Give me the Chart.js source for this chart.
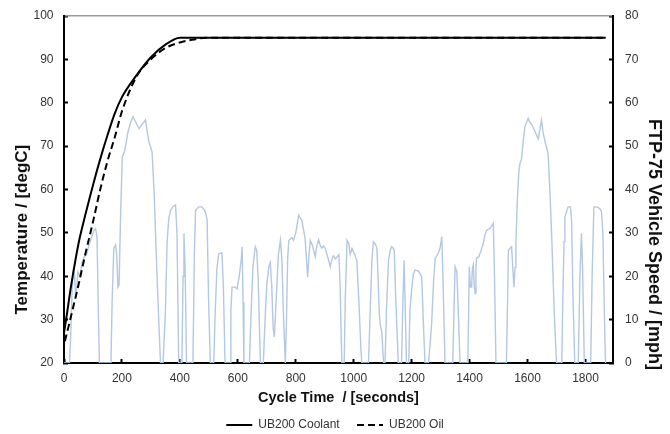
<!DOCTYPE html>
<html>
<head>
<meta charset="utf-8">
<script src="https://cdn.jsdelivr.net/npm/chart.js@4.4.1/dist/chart.umd.min.js"></script>
<style>
  html, body { margin: 0; padding: 0; background: #fff; }
  #wrap { width: 670px; height: 434px; }
</style>
</head>
<body>
<div id="wrap"><canvas id="chart" width="670" height="434"></canvas></div>
<script>
// engine temperatures (degC) over cycle time (s)
const coolantTime = [0, 6, 25, 50, 75, 100, 125, 150, 175, 200, 250, 300, 350, 400, 1870];
const coolantTemp = [27, 29.5, 38, 47.5, 54.5, 61, 67, 72.5, 77.5, 81.3, 86.3, 90.5, 93.4, 95, 95];

const oilTime = [3, 25, 50, 75, 100, 125, 150, 175, 200, 250, 300, 350, 400, 450, 490, 1870];
const oilTemp = [25, 31, 38, 45.5, 52.5, 60, 66.5, 72, 78, 86, 90, 92.6, 93.9, 94.6, 95, 95];

// FTP-75 vehicle speed (mph)
const speedTime = [0, 19, 23, 28, 33, 37, 40, 44, 48, 55, 62, 70, 78, 86, 95, 103, 109, 114, 118, 122,
  162, 166, 172, 178, 182, 186, 190, 195, 201, 210, 220, 230, 238, 248, 259, 270, 281, 287, 293, 304,
  312, 320, 327, 333, 342, 350, 356, 362, 368, 378, 385, 390, 396, 407, 411, 414, 418, 423, 445, 450,
  454, 465, 475, 482, 488, 494, 499, 505, 517, 522, 528, 534, 545, 550, 556, 573, 576, 580, 590, 597,
  605, 612, 615, 618, 621, 640, 646, 652, 660, 665, 670, 678, 688, 694, 700, 707, 712, 717, 722, 726,
  732, 740, 747, 752, 758, 764, 768, 772, 776, 787, 792, 800, 810, 815, 821, 826, 832, 837, 841, 846,
  850, 858, 867, 873, 879, 885, 890, 896, 902, 910, 916, 919, 925, 930, 937, 943, 949, 953, 959, 967,
  971, 977, 983, 988, 994, 1000, 1005, 1011, 1018, 1025, 1028, 1051, 1057, 1063, 1068, 1074, 1080, 1084, 1088, 1091,
  1097, 1103, 1108, 1113, 1120, 1126, 1131, 1136, 1140, 1145, 1154, 1165, 1170, 1174, 1178, 1182, 1190, 1194, 1200, 1206,
  1212, 1224, 1230, 1235, 1240, 1246, 1258, 1262, 1269, 1275, 1281, 1292, 1298, 1304, 1308, 1315, 1342, 1346, 1350, 1356,
  1362, 1367, 1394, 1399, 1403, 1407, 1410, 1413, 1416, 1419, 1422, 1424, 1432, 1440, 1447, 1453, 1459, 1470, 1476, 1482,
  1486, 1491, 1527, 1531, 1534, 1540, 1545, 1549, 1553, 1557, 1560, 1565, 1570, 1574, 1579, 1585, 1591, 1602, 1608, 1614,
  1625, 1637, 1643, 1648, 1654, 1660, 1666, 1671, 1677, 1684, 1692, 1700, 1718, 1722, 1726, 1729, 1740, 1748, 1752, 1757,
  1763, 1775, 1781, 1786, 1790, 1796, 1818, 1823, 1829, 1837, 1844, 1850, 1855, 1860, 1865, 1869];
const speedMph = [0, 0, 6, 17, 22, 20, 15, 17, 21, 20, 23, 24.5, 25, 27.2, 29, 30.6, 31, 29, 14, 0,
  0, 14, 26.4, 27.2, 25, 17.5, 18, 33, 47.5, 49, 53, 55.5, 56.8, 55.5, 54, 55, 56, 53.5, 51, 48.7,
  38, 22, 10, 0, 0, 12, 28, 33.5, 35.2, 36.2, 36.4, 30, 0, 0, 20, 29.9, 22, 0, 0, 25,
  35.2, 36, 36, 35.5, 34.8, 33, 15, 0, 0, 12, 22, 25.2, 25.4, 18, 0, 0, 12, 17.5, 17.5, 17.1,
  20, 24, 26.8, 14, 0, 0, 12, 22, 26.8, 26, 20, 0, 0, 10, 18, 22.2, 23.2, 18, 8, 6,
  14, 25, 28.3, 24, 10, 0, 10, 24, 28.3, 28.9, 28.3, 30, 34.1, 33.5, 32.9, 31, 28.8, 24, 19.8, 25,
  28.3, 27, 24.5, 27, 28.4, 27, 26.5, 27, 26.4, 24.5, 23, 22.2, 24, 24.7, 24, 24.5, 25, 18, 0, 0,
  15, 28.3, 27.5, 25, 26.4, 25.5, 24.8, 23.5, 14, 3, 0, 0, 12, 24, 27.9, 27.5, 26.5, 20, 12, 9.1,
  7, 0, 0, 12, 23.7, 26, 26.8, 26.5, 26, 15, 0, 0, 15, 23.7, 12, 0, 0, 12, 17, 20.5,
  21.4, 21.2, 20.5, 19.8, 10, 0, 0, 3, 9.1, 18, 24.1, 25.3, 26.5, 29.1, 20, 0, 0, 12, 22.2, 21,
  10, 0, 0, 22.2, 17.5, 17.5, 22, 22.7, 18, 16, 22, 24.2, 24.5, 26, 27.5, 29.5, 30.6, 31, 31.5, 32.2,
  20, 0, 0, 14, 26, 26.5, 26.8, 22, 17.5, 22, 28, 38, 44, 46, 47, 51, 54.5, 56.4, 55.5, 55,
  53.5, 51.7, 54, 56, 53, 51.2, 49.5, 48.3, 40, 28, 12, 0, 0, 15, 28, 33.7, 36, 36, 33, 15,
  0, 0, 20, 29.9, 22, 0, 0, 20, 36, 36, 35.8, 35.5, 35, 30, 12, 0];

const xTicks = [0, 200, 400, 600, 800, 1000, 1200, 1400, 1600, 1800];
const seriesNames = ["UB200 Coolant", "UB200 Oil", "FTP-75 Speed"];

function toPoints(xs, ys) {
  return xs.map((x, i) => ({ x: x, y: ys[i] }));
}

const FONT = "'Liberation Sans', Arial, Helvetica, sans-serif";
Chart.defaults.font.family = FONT;
Chart.defaults.color = "#222";

// the axis titles sit a bit below the middle of the plot in the original
const leftTitle = "Temperature / [degC]" + " ".repeat(17);
const rightTitle = " ".repeat(22) + "FTP-75 Vehicle Speed / [mph]";

// y axes: fixed width, and don't let label overflow push the plot down
function fitY(width) {
  return (scale) => {
    scale.width = width;
    scale.paddingTop = 0;
    scale.paddingBottom = 0;
  };
}

new Chart(document.getElementById("chart"), {
  type: "line",
  data: {
    datasets: [
      {
        label: seriesNames[0],
        data: toPoints(coolantTime, coolantTemp),
        yAxisID: "yTemp",
        borderColor: "#000",
        backgroundColor: "#000",
        borderWidth: 2,
        pointRadius: 0,
        cubicInterpolationMode: "monotone"
      },
      {
        label: seriesNames[1],
        data: toPoints(oilTime, oilTemp),
        yAxisID: "yTemp",
        borderColor: "#000",
        backgroundColor: "#000",
        borderWidth: 2,
        borderDash: [7, 4],
        pointRadius: 0,
        cubicInterpolationMode: "monotone"
      },
      {
        label: seriesNames[2],
        data: toPoints(speedTime, speedMph),
        yAxisID: "ySpeed",
        borderColor: "#b3c8e2",
        borderWidth: 1.4,
        pointRadius: 0,
        tension: 0
      }
    ]
  },
  options: {
    responsive: false,
    animation: false,
    layout: { padding: { top: 16, left: 0, right: 0, bottom: -7 } },
    plugins: {
      tooltip: { enabled: false },
      legend: {
        position: "bottom",
        labels: {
          usePointStyle: true,
          pointStyle: "line",
          pointStyleWidth: 26,
          boxHeight: 11,
          padding: 4,
          color: "#333",
          font: { size: 12 },
          filter: (item) => item.datasetIndex < 2,
          generateLabels: (chart) => {
            const items = Chart.defaults.plugins.legend.labels.generateLabels(chart);
            items.forEach((item) => {
              item.lineDash = chart.data.datasets[item.datasetIndex].borderDash || [];
              item.lineWidth = 2;
            });
            items[0].text += "    ";
            return items;
          }
        }
      }
    },
    scales: {
      x: {
        type: "linear",
        position: "bottom",
        min: 0,
        max: 1895,
        afterBuildTicks: (scale) => { scale.ticks = xTicks.map(v => ({ value: v })); },
        afterFit: (scale) => { scale.height = 52; },
        ticks: { padding: 12, font: { size: 12 }, color: "#333", maxRotation: 0, callback: (v) => String(v) },
        grid: { drawOnChartArea: false, drawTicks: true, tickLength: -4, tickWidth: 2, tickColor: "#000" },
        border: { color: "#000", width: 2 },
        title: {
          display: true,
          text: "Cycle Time  / [seconds]",
          color: "#111",
          font: { size: 14.5, weight: "bold" },
          padding: { top: 0, bottom: 8 }
        }
      },
      xTop: {
        type: "linear",
        position: "top",
        min: 0,
        max: 1895,
        afterFit: (scale) => { scale.height = 0; },
        ticks: { display: false },
        grid: { display: false, drawTicks: false },
        border: { color: "#9a9a9a", width: 1.5 }
      },
      yTemp: {
        type: "linear",
        position: "left",
        min: 20,
        max: 100,
        ticks: { stepSize: 10, padding: 14.5, font: { size: 12 }, color: "#333" },
        afterFit: fitY(64),
        grid: { drawOnChartArea: false, drawTicks: true, tickLength: -4, tickWidth: 2, tickColor: "#000" },
        border: { color: "#000", width: 2 },
        title: {
          display: true,
          text: leftTitle,
          color: "#111",
          font: { size: 17, weight: "bold" },
          padding: { top: 12, bottom: 0 }
        }
      },
      ySpeed: {
        type: "linear",
        position: "right",
        min: 0,
        max: 80,
        ticks: { stepSize: 10, padding: 16, font: { size: 12 }, color: "#333" },
        afterFit: fitY(57),
        grid: { drawOnChartArea: false, drawTicks: true, tickLength: -4, tickWidth: 2, tickColor: "#000" },
        border: { color: "#000", width: 2 },
        title: {
          display: true,
          text: rightTitle,
          color: "#111",
          font: { size: 18, weight: "bold" },
          padding: { top: 5, bottom: 0 }
        }
      }
    }
  }
});
</script>
</body>
</html>
